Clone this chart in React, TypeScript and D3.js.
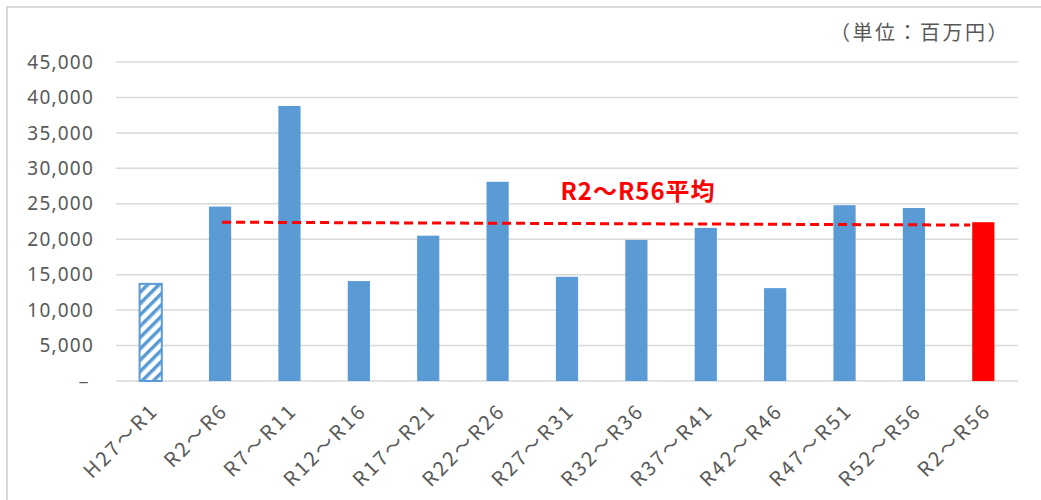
import { useRef, useEffect } from "react";
import * as d3 from "d3";

const categories = [
  "H27～R1",
  "R2～R6",
  "R7～R11",
  "R12～R16",
  "R17～R21",
  "R22～R26",
  "R27～R31",
  "R32～R36",
  "R37～R41",
  "R42～R46",
  "R47～R51",
  "R52～R56",
  "R2～R56",
];
const values = [13700, 24600, 38800, 14100, 20500, 28100, 14700, 19900, 21600, 13100, 24800, 24400, 22400];
const yTicks = [0, 5000, 10000, 15000, 20000, 25000, 30000, 35000, 40000, 45000];
// average line: starts at R2～R6, ends at the average bar
const avgLineValues = [22400, 22000];
const avgLabel = "R2～R56平均";
const unitLabel = "（単位：百万円）";

const W = 1041;
const H = 500;
const BLUE = "#5B9BD5";

function App() {
  const svgRef = useRef<SVGSVGElement>(null);

  useEffect(() => {
    if (!svgRef.current) return;
    const svg = d3.select(svgRef.current);
    svg.selectAll("*").remove();

    const left = 116;
    const right = 1018;
    const top = 62;
    const bottom = 381;

    const x = d3.scaleBand().domain(categories).range([left, right]).paddingInner(0.68).paddingOuter(0.34);
    const y = d3.scaleLinear().domain([0, 45000]).range([bottom, top]);

    // hatch pattern
    const defs = svg.append("defs");
    const pat = defs
      .append("pattern")
      .attr("id", "hatch")
      .attr("patternUnits", "userSpaceOnUse")
      .attr("width", 8)
      .attr("height", 8)
      .attr("patternTransform", "rotate(45)");
    pat.append("rect").attr("width", 8).attr("height", 8).attr("fill", "#fff");
    pat.append("rect").attr("width", 3.5).attr("height", 8).attr("fill", BLUE);

    // chart area border
    svg
      .append("rect")
      .attr("x", 7)
      .attr("y", 7)
      .attr("width", W + 100)
      .attr("height", H + 100)
      .attr("fill", "#fff")
      .attr("stroke", "#d9d9d9")
      .attr("stroke-width", 2);

    // gridlines
    svg
      .append("g")
      .selectAll("line")
      .data(yTicks)
      .join("line")
      .attr("x1", left)
      .attr("x2", right)
      .attr("y1", (d) => y(d))
      .attr("y2", (d) => y(d))
      .attr("stroke", "#d9d9d9")
      .attr("stroke-width", 1.5);

    // y labels
    svg
      .append("g")
      .selectAll("text")
      .data(yTicks)
      .join("text")
      .attr("x", 94)
      .attr("y", (d) => y(d))
      .attr("dy", "0.35em")
      .attr("text-anchor", "end")
      .attr("font-family", "'Noto Sans', sans-serif")
      .attr("font-size", 19)
      .attr("letter-spacing", 1.2)
      .attr("fill", "#595959")
      .text((d) => (d === 0 ? "－" : d3.format(",")(d)));

    // bars
    svg
      .append("g")
      .selectAll("rect")
      .data(values)
      .join("rect")
      .attr("x", (_, i) => x(categories[i])!)
      .attr("width", x.bandwidth())
      .attr("y", (d) => y(d))
      .attr("height", (d) => bottom - y(d))
      .attr("fill", (_, i) => (i === 0 ? "url(#hatch)" : i === values.length - 1 ? "#FF0000" : BLUE))
      .attr("stroke", (_, i) => (i === 0 ? BLUE : "none"))
      .attr("stroke-width", 2);

    // average dashed line
    const last = categories[categories.length - 1];
    svg
      .append("line")
      .attr("x1", x(categories[1])! + x.bandwidth() / 2 + 2)
      .attr("x2", x(last)! - 2)
      .attr("y1", y(avgLineValues[0]))
      .attr("y2", y(avgLineValues[1]))
      .attr("stroke", "#FF0000")
      .attr("stroke-width", 3)
      .attr("stroke-dasharray", "9,5");

    svg
      .append("text")
      .attr("x", 638)
      .attr("y", 200)
      .attr("text-anchor", "middle")
      .attr("font-family", "'Noto Sans CJK JP', sans-serif")
      .attr("font-weight", "bold")
      .attr("font-size", 24)
      .attr("letter-spacing", 1)
      .attr("fill", "#FF0000")
      .text(avgLabel);

    svg
      .append("text")
      .attr("x", 1010)
      .attr("y", 40)
      .attr("text-anchor", "end")
      .attr("font-family", "'Noto Sans CJK JP', sans-serif")
      .attr("font-size", 20)
      .attr("letter-spacing", 2.5)
      .attr("fill", "#595959")
      .text(unitLabel);

    // x labels
    svg
      .append("g")
      .selectAll("text")
      .data(categories)
      .join("text")
      .attr("transform", (d) => `translate(${x(d)! + x.bandwidth() / 2 + 9},${bottom + 31}) rotate(-45)`)
      .attr("text-anchor", "end")
      .attr("font-family", "'Noto Sans CJK JP', sans-serif")
      .attr("font-size", 20)
      .attr("letter-spacing", 2.5)
      .attr("fill", "#595959")
      .text((d) => d);
  }, []);

  return (
    <svg
      ref={svgRef}
      width={W}
      height={H}
      style={{ position: "absolute", top: 0, left: 0, background: "#fff" }}
    />
  );
}

export default App;
